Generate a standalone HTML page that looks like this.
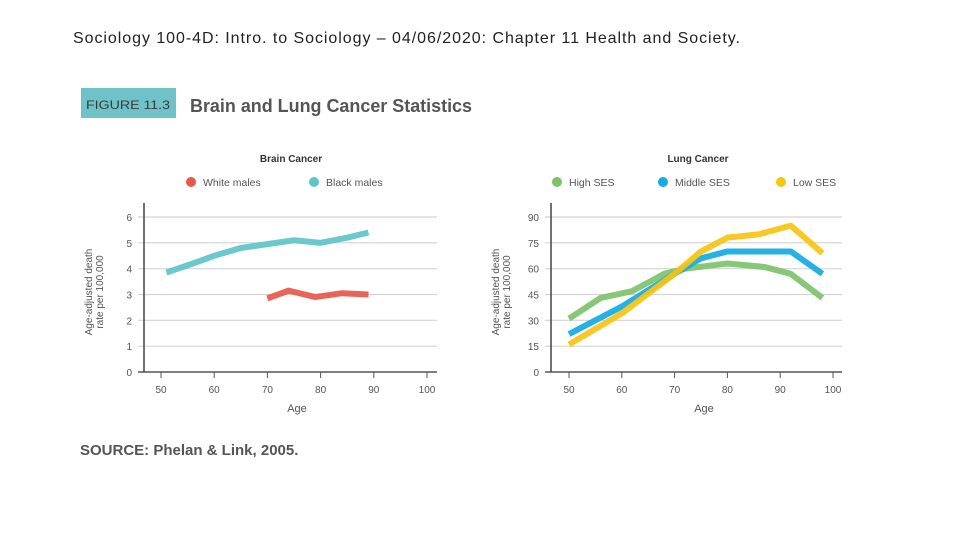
<!DOCTYPE html>
<html><head><meta charset="utf-8">
<style>
html,body{margin:0;padding:0;background:#fff;width:960px;height:540px;overflow:hidden}
svg{display:block}
text{font-family:"Liberation Sans",sans-serif}
</style></head>
<body>
<svg id="s" width="960" height="540" xmlns="http://www.w3.org/2000/svg">
<text x="73" y="43" font-size="16" fill="#222" textLength="667" lengthAdjust="spacing">Sociology 100-4D: Intro. to Sociology – 04/06/2020: Chapter 11 Health and Society.</text>
<rect x="81" y="88" width="95" height="30" fill="#6fc2c8"/>
<text x="86" y="109" font-size="12" fill="#3a3a3a" textLength="84" lengthAdjust="spacingAndGlyphs">FIGURE 11.3</text>
<text x="190" y="112" font-size="18" font-weight="bold" fill="#555" textLength="282" lengthAdjust="spacingAndGlyphs">Brain and Lung Cancer Statistics</text>
<text x="80" y="455" font-size="15" font-weight="bold" fill="#555">SOURCE: Phelan &amp; Link, 2005.</text>
<g id="g1"></g>
<g id="g2"></g>
</svg>
<script>
const brainAges=[51,56,60,65,70,75,80,85,89];
const blackMales=[3.85,4.2,4.5,4.8,4.95,5.1,5.0,5.2,5.4];
const whiteAges=[70,74,79,84,89];
const whiteMales=[2.85,3.15,2.9,3.05,3.0];
const brainYTicks=[0,1,2,3,4,5,6];
const xTicks=[50,60,70,80,90,100];
const lungAges=[50,56,62,68,72,80,87,92,98];
const highSES=[31,43,47,57,60,63,61,57,43];
const midAges=[50,60,70,75,80,92,98];
const middleSES=[22,38,57,66,70,70,57];
const lowAges=[50,60,70,75,80,86,92,98];
const lowSES=[16,34,57,70,78,80,85,69];
const lungYTicks=[0,15,30,45,60,75,90];

const NS="http://www.w3.org/2000/svg";
function mk(p,t,a){const e=document.createElementNS(NS,t);for(const k in a)e.setAttribute(k,a[k]);p.appendChild(e);return e;}

function chart(g,o){
  const sx=v=>o.x0+(v-50)*(o.x1-o.x0)/50;
  const sy=v=>372-v*(372-217)/o.ymax;
  o.yt.forEach(v=>{
    const l=mk(g,'line',{x1:o.ax-6,x2:o.gx2,y1:sy(v),y2:sy(v),stroke:v==0?'#555':'#d4d4d4','stroke-width':v==0?1.5:1.2});
    
    
    const t=mk(g,'text',{x:o.ax-12,y:sy(v)+4,'font-size':10,fill:'#555','text-anchor':'end'});t.textContent=v;
    
    
  });
  const a=mk(g,'line',{x1:o.ax,x2:o.ax,y1:203,y2:372,stroke:'#444','stroke-width':1.5});
  
  
  xTicks.forEach(v=>{
    const tk=mk(g,'line',{x1:sx(v),x2:sx(v),y1:372,y2:378,stroke:'#555'});
    
    
    const t=mk(g,'text',{x:sx(v),y:393,'font-size':10,fill:'#555','text-anchor':'middle'});t.textContent=v;
    
    
  });
  const xt=mk(g,'text',{x:(o.x0+o.x1)/2+3,y:412,'font-size':11,fill:'#555','text-anchor':'middle'});xt.textContent='Age';
  
  
  const yt=mk(g,'text',{transform:`translate(${o.ax-52},292) rotate(-90)`,'font-size':10,fill:'#555','text-anchor':'middle'});
  
  
  const s1=mk(yt,'tspan',{x:0,dy:0});s1.textContent='Age-adjusted death';
  const s2=mk(yt,'tspan',{x:0,dy:11});s2.textContent='rate per 100,000';
  const tt=mk(g,'text',{x:o.tx,y:162,'font-size':10,'font-weight':'bold',fill:'#333','text-anchor':'middle'});tt.textContent=o.title;
  
  
  o.series.forEach(s=>{
    const c=mk(g,'circle',{cx:s.lx,cy:182,r:5,fill:s.c});
    
    
    const t=mk(g,'text',{x:s.lx+12,y:186,'font-size':10.5,fill:'#555'});t.textContent=s.n;
    
    
    const p=mk(g,'polyline',{points:s.x.map((v,i)=>sx(v)+','+sy(s.y[i])).join(' '),fill:'none',stroke:s.c,'stroke-width':6,'stroke-linejoin':'round','stroke-opacity':0.92});
    
    
  });
}
chart(document.getElementById('g1'),{x0:161,x1:427,ax:144,gx2:437,ymax:6,yt:brainYTicks,tx:291,title:'Brain Cancer',
  series:[{n:'White males',c:'#e8584a',lx:191,x:whiteAges,y:whiteMales},{n:'Black males',c:'#5ec4c9',lx:314,x:brainAges,y:blackMales}]});
chart(document.getElementById('g2'),{x0:569,x1:833,ax:551,gx2:842,ymax:90,yt:lungYTicks,tx:698,title:'Lung Cancer',
  series:[{n:'High SES',c:'#7cc36b',lx:557,x:lungAges,y:highSES},{n:'Middle SES',c:'#14aae4',lx:663,x:midAges,y:middleSES},{n:'Low SES',c:'#f7c412',lx:781,x:lowAges,y:lowSES}]});
</script>
</body></html>
